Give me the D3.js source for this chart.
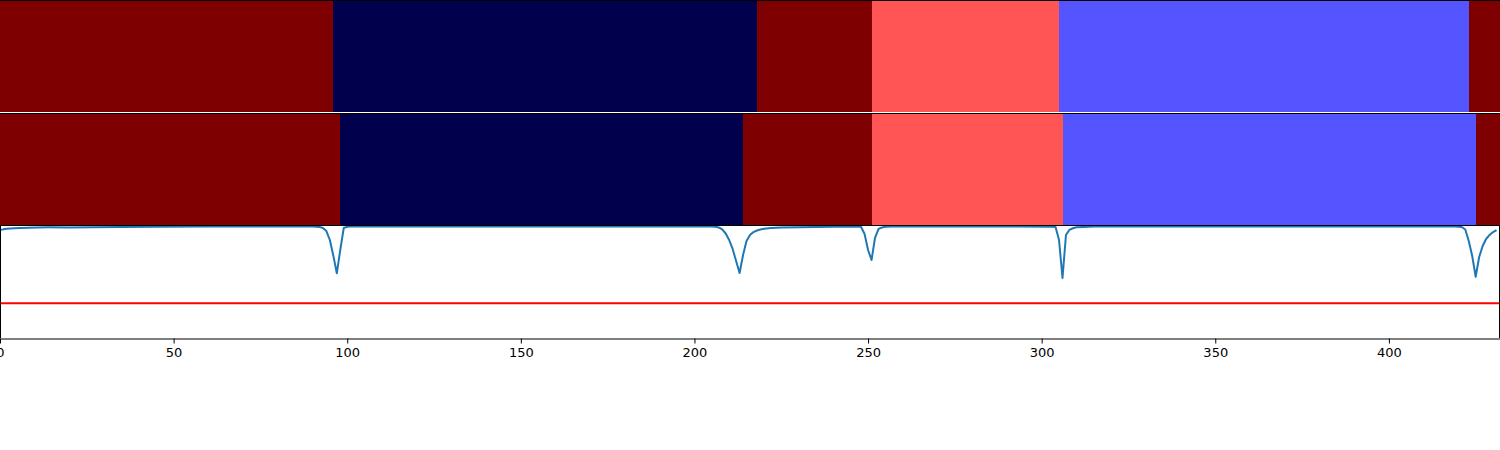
<!DOCTYPE html>
<html>
<head>
<meta charset="utf-8">
<script src="https://cdn.jsdelivr.net/npm/d3@7"></script>
<style>
  html, body { margin: 0; padding: 0; background: #ffffff; }
  svg { display: block; }
</style>
</head>
<body>
<script>
// ---- data ----
const classColors = ["#7f0000", "#00004c", "#ff5555", "#5555ff"];
// ground truth segments
const gtStart = [0, 96, 218, 251, 305, 423];
const gtEnd   = [96, 218, 251, 305, 423, 432];
const gtLabel = [0, 1, 0, 2, 3, 0];
// predicted segments
const predStart = [0, 98, 214, 251, 306, 425];
const predEnd   = [98, 214, 251, 306, 425, 432];
const predLabel = [0, 1, 0, 2, 3, 0];
// similarity curve (sample index, value)
const simX = [0, 1, 2, 4, 8, 14, 20, 26, 35, 45, 60, 85, 90, 91, 92, 93, 94, 95, 96, 97, 98, 99, 100, 101, 130, 170, 205, 206, 207, 208, 209, 210, 211, 212, 213, 214, 215, 216, 217, 218, 219, 220, 222, 225, 230, 240, 247, 248, 249, 250, 251, 252, 253, 254, 255, 257, 280, 303, 304, 305, 306, 307, 308, 309, 310, 312, 315, 360, 419, 420, 421, 422, 423, 424, 425, 426, 427, 428, 429, 430, 431];
const simY = [0.964, 0.970, 0.975, 0.980, 0.985, 0.988, 0.987, 0.988, 0.991, 0.994, 0.995, 0.995, 0.995, 0.993, 0.992, 0.982, 0.955, 0.875, 0.735, 0.578, 0.786, 0.982, 0.993, 0.996, 0.996, 0.996, 0.995, 0.993, 0.987, 0.969, 0.933, 0.875, 0.795, 0.688, 0.580, 0.741, 0.866, 0.920, 0.946, 0.960, 0.969, 0.975, 0.982, 0.987, 0.989, 0.993, 0.995, 0.991, 0.929, 0.786, 0.696, 0.893, 0.973, 0.987, 0.993, 0.995, 0.996, 0.994, 0.991, 0.875, 0.536, 0.920, 0.966, 0.980, 0.989, 0.992, 0.995, 0.996, 0.995, 0.994, 0.991, 0.969, 0.866, 0.732, 0.547, 0.723, 0.821, 0.884, 0.920, 0.946, 0.964];
const threshold = 0.31;
const xTicks = [0, 50, 100, 150, 200, 250, 300, 350, 400];

// ---- layout ----
const W = 1500, H = 450;
const svg = d3.select("body").append("svg").attr("width", W).attr("height", H)
  .style("background", "#fff");

const x = d3.scaleLinear().domain([0, 432]).range([0, 1500]);
const color = d3.scaleOrdinal().domain([0, 1, 2, 3]).range(classColors);

function drawBar(starts, ends, labels, y0, h) {
  const segs = starts.map((s, i) => ({ s, e: ends[i], c: labels[i] }));
  svg.append("g").selectAll("rect").data(segs).join("rect")
    .attr("x", d => x(d.s))
    .attr("width", d => x(d.e) - x(d.s))
    .attr("y", y0).attr("height", h)
    .attr("fill", d => color(d.c))
    .attr("shape-rendering", "crispEdges");
}
drawBar(gtStart, gtEnd, gtLabel, 0, 112);
drawBar(predStart, predEnd, predLabel, 113, 113);

// borders of bar panels
svg.append("line").attr("x1", 0).attr("x2", W).attr("y1", 0.5).attr("y2", 0.5)
  .attr("stroke", "#000").attr("stroke-width", 1);
svg.append("line").attr("x1", 0).attr("x2", W).attr("y1", 112.5).attr("y2", 112.5)
  .attr("stroke", "#fff").attr("stroke-width", 1);
svg.append("line").attr("x1", 0).attr("x2", W).attr("y1", 113.5).attr("y2", 113.5)
  .attr("stroke", "#000").attr("stroke-width", 1);

// bottom panel
const y = d3.scaleLinear().domain([0, 1]).range([338, 226]);
const pts = simX.map((v, i) => [v, simY[i]]);
svg.append("path").datum(pts)
  .attr("d", d3.line().x(d => x(d[0])).y(d => y(d[1])))
  .attr("fill", "none").attr("stroke", "#1f77b4").attr("stroke-width", 2)
  .attr("stroke-linejoin", "round").attr("stroke-linecap", "butt");

svg.append("line").attr("x1", 0).attr("x2", 1499).attr("y1", y(threshold)).attr("y2", y(threshold))
  .attr("stroke", "#ff0000").attr("stroke-width", 2);

// spines
const sp = svg.append("g").attr("stroke", "#000").attr("stroke-width", 1).attr("shape-rendering", "crispEdges");
sp.append("line").attr("x1", 0).attr("x2", 1500).attr("y1", 225.5).attr("y2", 225.5);
sp.append("line").attr("x1", 0.5).attr("x2", 0.5).attr("y1", 225.5).attr("y2", 338);
sp.append("line").attr("x1", 1499.5).attr("x2", 1499.5).attr("y1", 225.5).attr("y2", 338);

// x axis
const ax = svg.append("g").attr("transform", "translate(0,338.5)")
  .call(d3.axisBottom(x).tickValues(xTicks).tickSize(5).tickPadding(4).tickSizeOuter(0));
ax.select(".domain").attr("stroke", "#000").attr("stroke-width", 1);
ax.selectAll(".tick line").attr("stroke", "#000").attr("stroke-width", 1);
ax.selectAll(".tick text").attr("fill", "#000")
  .style("font-family", "DejaVu Sans").style("font-size", "13px");
</script>
</body>
</html>
